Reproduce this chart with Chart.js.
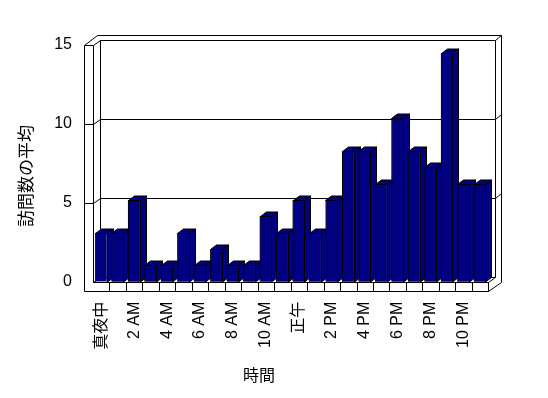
<!DOCTYPE html>
<html>
<head>
<meta charset="utf-8">
<script src="https://cdn.jsdelivr.net/npm/chart.js@4.4.1/dist/chart.umd.min.js"></script>
<style>
  html, body { margin: 0; padding: 0; background: #fff; }
  canvas { display: block; }
</style>
</head>
<body>
<canvas id="visitsChart" width="548" height="398"></canvas>
<script>
// --------------------- Data ---------------------
const hours = [
  '真夜中', '1 AM', '2 AM', '3 AM', '4 AM', '5 AM', '6 AM', '7 AM', '8 AM', '9 AM', '10 AM', '11 AM',
  '正午', '1 PM', '2 PM', '3 PM', '4 PM', '5 PM', '6 PM', '7 PM', '8 PM', '9 PM', '10 PM', '11 PM'
];
const avgVisits = [3, 3, 5, 1, 1, 3, 1, 2, 1, 1, 4, 3, 5, 3, 5, 8, 8, 6, 10, 8, 7, 14, 6, 6];
const yTickValues = [0, 5, 10, 15];
const xTitle = '時間';
const yTitle = '訪問数の平均';

const NAVY = '#000080';
const FONT = '"Liberation Sans", "Noto Sans CJK JP", sans-serif';
const CJK_FONT = '"Noto Sans CJK JP", sans-serif';

// --------------------- 3D box + bar faces ---------------------
const WALL = { x: 6.5, y: -4.7 };     // depth of the plot box
const BAR = { x: 6, y: -4.5 };        // depth of one column
const FLOOR_H = 9.3;
const WALL_W = 9;

function seg(ctx, x1, y1, x2, y2) {
  ctx.moveTo(Math.round(x1) + 0.5, Math.round(y1) + 0.5);
  ctx.lineTo(Math.round(x2) + 0.5, Math.round(y2) + 0.5);
}

const box3d = {
  id: 'box3d',
  beforeDatasetsDraw(chart) {
    const { ctx, chartArea: a, scales } = chart;
    const yt = scales.yTicks;
    const top = yt.getPixelForValue(yTickValues[yTickValues.length - 1]);
    const floor = a.bottom;
    const L = a.left, R = a.right;
    const wl = L - WALL_W;
    const bx = WALL.x, by = WALL.y;

    ctx.save();
    ctx.strokeStyle = '#000';
    ctx.lineWidth = 1;
    ctx.beginPath();
    // left wall front face
    seg(ctx, wl, top, wl, floor + FLOOR_H);
    seg(ctx, L, top, L, floor);
    seg(ctx, wl, top, L, top);
    // left wall top
    seg(ctx, wl, top, wl + 2 * bx, top + 2 * by);
    seg(ctx, L, top, L + bx, top + by);
    // back wall
    seg(ctx, wl + 2 * bx, top + 2 * by, R + 2 * bx, top + 2 * by);
    seg(ctx, L + bx, top + by, R + bx, top + by);
    seg(ctx, L + bx, top + by, L + bx, floor + by);
    seg(ctx, R + bx, top + by, R + bx, floor + by);
    seg(ctx, R + bx, top + by, R + 2 * bx, top + 2 * by);
    seg(ctx, R + 2 * bx, top + 2 * by, R + 2 * bx, floor + FLOOR_H + 2 * by);
    // floor
    seg(ctx, L, floor, R, floor);
    seg(ctx, L + bx, floor + by, R + bx, floor + by);
    seg(ctx, L, floor, L + bx, floor + by);
    seg(ctx, R, floor, R + bx, floor + by);
    seg(ctx, wl, floor + FLOOR_H, R, floor + FLOOR_H);
    seg(ctx, R, floor, R, floor + FLOOR_H);
    seg(ctx, R, floor + FLOOR_H, R + 2 * bx, floor + FLOOR_H + 2 * by);
    // floor cells, one per category
    const xs = scales.x;
    const half = (xs.getPixelForValue(1) - xs.getPixelForValue(0)) / 2;
    for (let i = 1; i < hours.length; i++) {
      const px = xs.getPixelForValue(i) - half;
      seg(ctx, px, floor, px, floor + FLOOR_H);
    }
    // gridlines on the walls
    yTickValues.slice(1, -1).forEach(v => {
      const py = yt.getPixelForValue(v);
      seg(ctx, wl, py, L, py);
      seg(ctx, L, py, L + bx, py + by);
      seg(ctx, L + bx, py + by, R + bx, py + by);
      seg(ctx, R + bx, py + by, R + 2 * bx, py + 2 * by);
    });
    ctx.stroke();
    ctx.restore();
  },
  afterDatasetsDraw(chart) {
    const { ctx } = chart;
    const bars = chart.getDatasetMeta(0).data;
    ctx.save();
    ctx.fillStyle = NAVY;
    ctx.strokeStyle = '#000';
    ctx.lineWidth = 1;
    bars.forEach((bar, i) => {
      const { x, y, base, width } = bar.getProps(['x', 'y', 'base', 'width'], true);
      const l = Math.round(x - width / 2), r = Math.round(x + width / 2) - 0.5;
      const t = Math.round(y) + 0.5, b = Math.round(base);
      // top face
      ctx.beginPath();
      ctx.moveTo(l + 0.5, t);
      ctx.lineTo(l + 0.5 + BAR.x, t + BAR.y);
      ctx.lineTo(r + BAR.x, t + BAR.y);
      ctx.lineTo(r, t);
      ctx.closePath();
      ctx.fill();
      ctx.stroke();
      // right face
      ctx.beginPath();
      ctx.moveTo(r, t);
      ctx.lineTo(r + BAR.x, t + BAR.y);
      ctx.lineTo(r + BAR.x, b + BAR.y);
      ctx.lineTo(r, b);
      ctx.closePath();
      ctx.fill();
      ctx.stroke();
      // next column stands in front of this side face
      if (bars[i + 1]) bars[i + 1].draw(ctx);
    });
    ctx.restore();
  },
  afterDraw(chart) {
    const { ctx } = chart;
    ctx.save();
    ctx.fillStyle = '#000';
    ctx.textAlign = 'center';
    ctx.textBaseline = 'middle';
    ctx.font = '16px ' + CJK_FONT;
    ctx.fillText(xTitle, 259, 375);
    ctx.translate(26, 176);
    ctx.rotate(-Math.PI / 2);
    ctx.font = '17px ' + CJK_FONT;
    ctx.fillText(yTitle, 0, 0);
    ctx.restore();
  }
};

// --------------------- Chart ---------------------
const ctx = document.getElementById('visitsChart').getContext('2d');
const visitsChart = new Chart(ctx, {
  type: 'bar',
  data: {
    labels: hours,
    datasets: [{
      label: yTitle,
      data: avgVisits,
      backgroundColor: NAVY,
      borderColor: '#000',
      borderWidth: 1,
      barPercentage: 0.77,
      categoryPercentage: 1
    }]
  },
  options: {
    responsive: false,
    animation: false,
    devicePixelRatio: 1,
    layout: { padding: { top: 36.7, right: 59.7, left: 0, bottom: 0 } },
    plugins: { legend: { display: false }, tooltip: { enabled: false } },
    scales: {
      x: {
        grid: { display: false, drawTicks: false },
        border: { display: false },
        ticks: {
          autoSkip: false,
          minRotation: 90,
          maxRotation: 90,
          padding: 20,
          color: '#000',
          font: { family: FONT, size: 16 },
          callback: (val, i) => (i % 2 === 0 ? hours[i] : '')
        },
        afterFit: scale => { scale.height = 116.3; }
      },
      y: {
        display: false,
        min: 0,
        max: 15
      },
      yTicks: {
        position: 'left',
        min: 0,
        max: 15.5,
        grid: { display: false, drawTicks: false },
        border: { display: false },
        afterBuildTicks: scale => { scale.ticks = yTickValues.map(v => ({ value: v })); },
        ticks: {
          padding: 21,
          color: '#000',
          font: { family: FONT, size: 16 }
        },
        afterFit: scale => { scale.width = 93; }
      }
    }
  },
  plugins: [box3d]
});
</script>
</body>
</html>
